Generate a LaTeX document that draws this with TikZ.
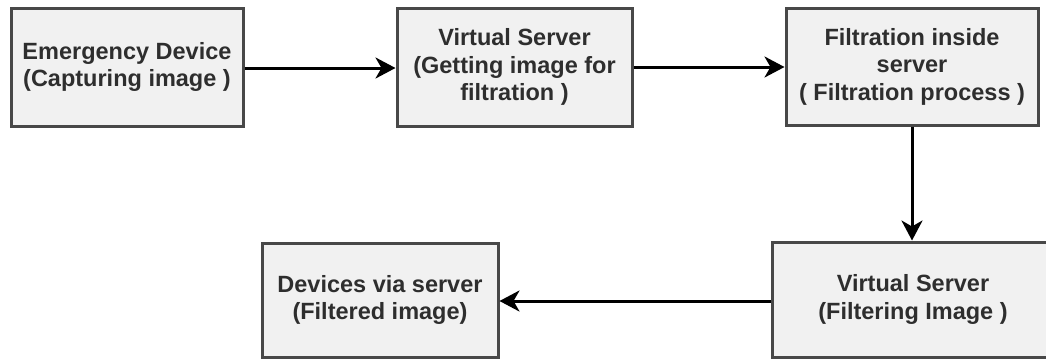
\documentclass[tikz,border=0pt]{standalone}
\usepackage{fontspec}
\setmainfont{Liberation Sans}
\usetikzlibrary{arrows.meta}
\definecolor{boxfill}{HTML}{F1F1F1}
\definecolor{boxline}{HTML}{484848}
\definecolor{inktext}{HTML}{2E2E2E}
\tikzset{
  x=1pt, y=-1pt,
  stage/.style={draw=boxline, line width=3pt, fill=boxfill, text=inktext,
    align=center, inner sep=0pt,
    font=\fontsize{23.5}{27.5}\selectfont\bfseries},
  flow/.style={draw=black, line width=3pt,
    -{Stealth[length=20pt,width=21pt,inset=6pt]}}
}
\begin{document}
\begin{tikzpicture}
\useasboundingbox (0,0) rectangle (1046,360);
\fill[white] (0,0) rectangle (1046,360);
\node[stage, minimum width=232pt, minimum height=118pt] (capture) at (127,67)
  {Emergency Device\\(Capturing image )};
\node[stage, minimum width=235pt, minimum height=118pt] (receive) at (514.5,67)
  {Virtual Server\\(Getting image for\\filtration )};
\node[stage, minimum width=252pt, minimum height=117pt] (filter) at (912,66.5)
  {Filtration inside\\server\\( Filtration process )};
\node[stage, minimum width=282pt, minimum height=115pt] (serve) at (913,299.5)
  {Virtual Server\\(Filtering Image )};
\node[stage, minimum width=236pt, minimum height=114pt] (devices) at (380,300)
  {Devices via server\\(Filtered image)};
\draw[flow] (capture.east |- 0,68) -- (receive.west |- 0,68);
\draw[flow] (receive.east |- 0,67) -- (filter.west |- 0,67);
\draw[flow] (filter.south) -- (filter.south |- serve.north);
\draw[flow] (serve.west |- 0,301) -- (devices.east |- 0,301);
\end{tikzpicture}
\end{document}
